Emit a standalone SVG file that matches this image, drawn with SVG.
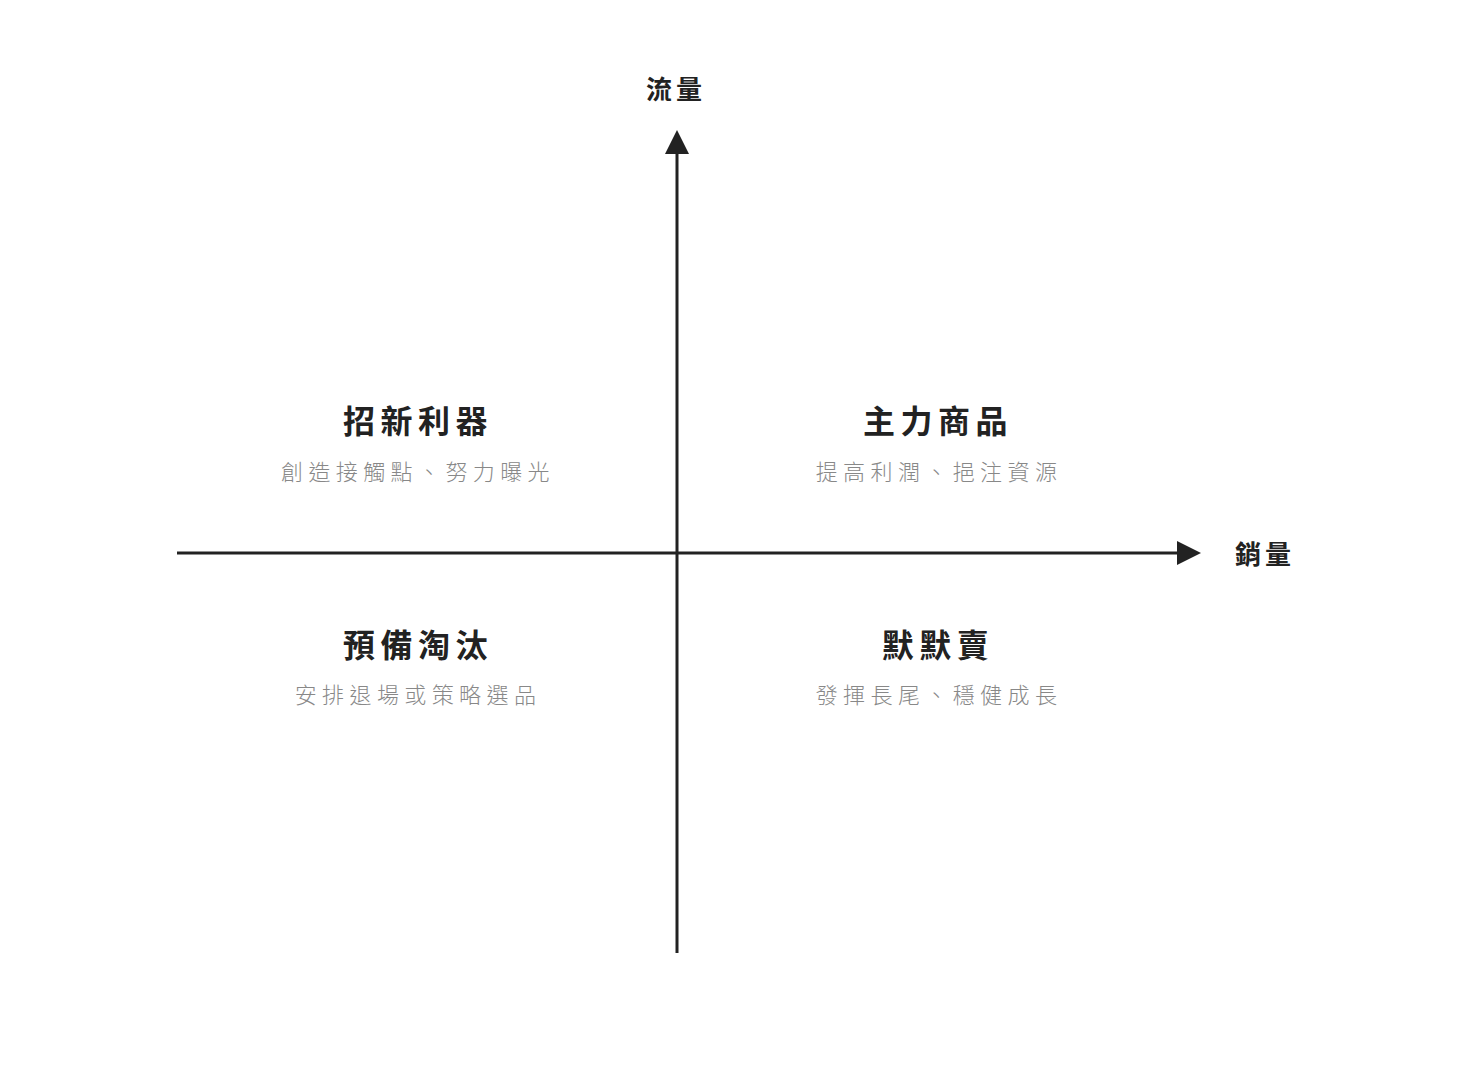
<svg xmlns="http://www.w3.org/2000/svg" width="1462" height="1066" viewBox="0 0 1462 1066">
<style>
.axis{stroke:#222;stroke-width:3;fill:none}
.ah{fill:#222}
.al{font-family:"Noto Sans CJK TC","Noto Sans CJK SC",sans-serif;font-weight:700;font-size:26px;fill:#222;letter-spacing:4px}
.t{font-family:"Noto Sans CJK TC","Noto Sans CJK SC",sans-serif;font-weight:700;font-size:32px;fill:#222;letter-spacing:5.5px;text-anchor:middle}
.s{font-family:"Noto Sans CJK TC","Noto Sans CJK SC",sans-serif;font-weight:300;font-size:22px;fill:#888;letter-spacing:5.4px;text-anchor:middle}
</style>
<rect width="1462" height="1066" fill="#fff"/>
<g id="connectors">
<line class="axis" x1="677" y1="953" x2="677" y2="150"/>
<polygon class="ah" points="677,130 689,154 665,154"/>
<line class="axis" x1="177" y1="553" x2="1180" y2="553"/>
<polygon class="ah" points="1201,553 1177,541 1177,565"/>
</g>
<g id="axis-y"><text class="al" x="646" y="99">流量</text></g>
<g id="axis-x"><text class="al" x="1235" y="564">銷量</text></g>
<g id="q-top-left">
<text class="t" x="418" y="433">招新利器</text>
<text class="s" x="418" y="480">創造接觸點、努力曝光</text>
</g>
<g id="q-top-right">
<text class="t" x="938" y="433">主力商品</text>
<text class="s" x="939" y="480">提高利潤、挹注資源</text>
</g>
<g id="q-bottom-left">
<text class="t" x="418" y="657">預備淘汰</text>
<text class="s" x="418" y="703">安排退場或策略選品</text>
</g>
<g id="q-bottom-right">
<text class="t" x="938" y="657">默默賣</text>
<text class="s" x="939" y="703">發揮長尾、穩健成長</text>
</g>
</svg>
